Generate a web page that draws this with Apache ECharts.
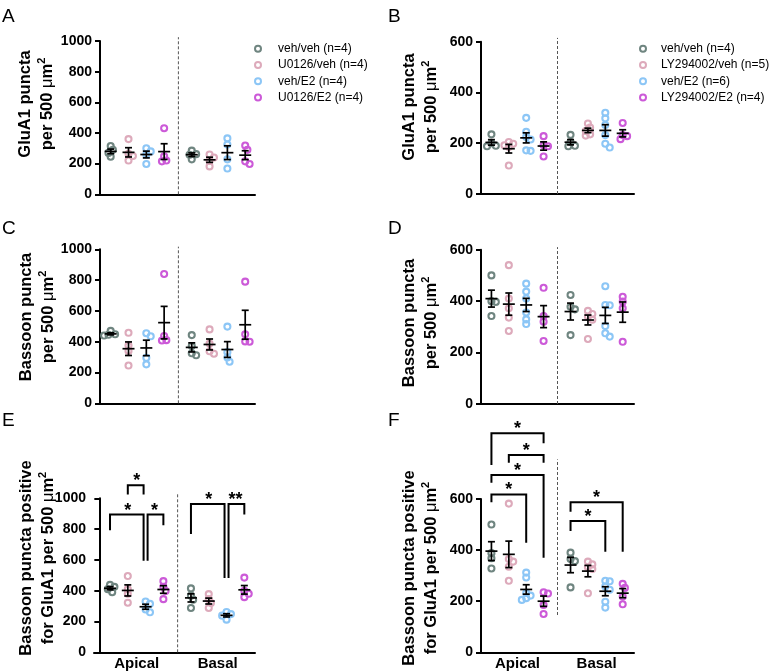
<!DOCTYPE html>
<html><head><meta charset="utf-8">
<script src="https://cdn.jsdelivr.net/npm/echarts@6/dist/echarts.min.js"></script>
<style>html,body{margin:0;padding:0;background:#fff}#c{width:770px;height:671px}</style>
</head><body><div id="c"></div>
<script>
const FONT = '"Liberation Sans", Arial, Helvetica, sans-serif';
const colors = ['#6f8580', '#ddaabb', '#8cc6f6', '#cc5ad8'];

// legend / group names
const groupsU = ['veh/veh (n=4)', 'U0126/veh (n=4)', 'veh/E2 (n=4)', 'U0126/E2 (n=4)'];
const groupsLY = ['veh/veh (n=4)', 'LY294002/veh (n=5)', 'veh/E2 (n=6)', 'LY294002/E2 (n=4)'];
const regions = ['Apical', 'Basal'];
const ticks1000 = [0, 200, 400, 600, 800, 1000];
const ticks600 = [0, 200, 400, 600];

// Panel A: GluA1 puncta per 500 um2 (U0126 experiment) [group][points]
const A_apical = [[315, 290, 270, 245], [360, 265, 250, 220], [300, 280, 260, 198], [431, 248, 220, 215]];
const A_basal  = [[285, 262, 258, 228], [260, 240, 218, 182], [365, 325, 228, 168], [318, 290, 215, 198]];
// Panel B: GluA1 puncta (LY294002 experiment)
const B_apical = [[235, 200, 188, 190], [205, 198, 192, 185, 112], [300, 245, 225, 215, 172, 170], [228, 192, 188, 148]];
const B_basal  = [[233, 205, 190, 188], [278, 262, 248, 235, 230], [320, 298, 272, 232, 198, 183], [280, 232, 228, 216]];
// Panel C: Bassoon puncta (U0126)
const C_apical = [[470, 448, 445, 440], [458, 375, 340, 245], [455, 435, 295, 253], [840, 437, 410, 408]];
const C_basal  = [[443, 372, 325, 312], [480, 388, 338, 322], [498, 332, 297, 270], [790, 448, 402, 400]];
// Panel D: Bassoon puncta (LY294002)
const D_apical = [[500, 400, 397, 342], [540, 410, 372, 336, 284], [468, 437, 410, 356, 329, 311], [452, 342, 320, 245]];
const D_basal  = [[424, 378, 368, 268], [362, 350, 340, 328, 253], [458, 385, 384, 303, 275, 262], [417, 398, 372, 242]];
// Panel E: Bassoon positive for GluA1 (U0126)
const E_apical = [[438, 425, 410, 390], [495, 410, 380, 322], [330, 315, 278, 260], [462, 426, 398, 345]];
const E_basal  = [[415, 368, 342, 288], [378, 345, 320, 288], [262, 248, 238, 212], [485, 400, 380, 358]];
// Panel F: Bassoon positive for GluA1 (LY294002)
const F_apical = [[500, 388, 368, 328], [582, 365, 355, 335, 280], [312, 293, 232, 222, 212, 205], [235, 230, 185, 150]];
const F_basal  = [[390, 365, 357, 254], [355, 344, 333, 326, 231], [280, 278, 258, 245, 198, 175], [268, 252, 218, 188]];

// significance brackets: [region, groupFrom, groupTo, topValue, leftLegEnd, rightLegEnd, label]
const E_brackets = [
  ['Apical', 1, 2, 1084, 1024, 1024, '*'],
  ['Apical', 0, 2, 894, 792, 595, '*'],
  ['Apical', 2, 3, 894, 595, 825, '*'],
  ['Basal', 0, 2, 963, 768, 483, '*'],
  ['Basal', 2, 3, 963, 483, 894, '**']
];
const F_brackets = [
  ['Apical', 0, 3, 857, 733, 818, '*'],
  ['Apical', 1, 3, 772, 742, 742, '*'],
  ['Apical', 0, 3, 694, 664, 370, '*'],
  ['Apical', 0, 2, 618, 587, 429, '*'],
  ['Basal', 0, 3, 587, 550, 394, '*'],
  ['Basal', 0, 2, 514, 475, 394, '*']
];

// ---------- layout ----------
const groupPos = [[0.6, 1.6, 2.6, 3.6], [5.15, 6.15, 7.15, 8.15]];
const dividerX = 4.4;
const regionLabelX = [2.1, 6.65];

const panels = [
  {letter: 'A', lx: 2, ly: 17, grid: {left: 100, top: 41, width: 155, height: 153.3}, xr: [0, 8.7], ticks: ticks1000,
   data: [A_apical, A_basal], names: groupsU, dash: [0, 1025], title: {x: 36.5, y: 104, l1: 'GluA1 puncta', l2: 'per 500 '}},
  {letter: 'B', lx: 388, ly: 17, grid: {left: 481, top: 41.7, width: 153, height: 152.3}, xr: [0, 8.8], ticks: ticks600,
   data: [B_apical, B_basal], names: groupsLY, dash: [0, 615], title: {x: 420, y: 107, l1: 'GluA1 puncta', l2: 'per 500 '}},
  {letter: 'C', lx: 2, ly: 229, grid: {left: 100, top: 249.3, width: 155, height: 154}, xr: [0, 8.7], ticks: ticks1000,
   data: [C_apical, C_basal], names: groupsU, dash: [0, 1017], title: {x: 37, y: 317, l1: 'Bassoon puncta', l2: 'per 500 '}},
  {letter: 'D', lx: 388, ly: 229, grid: {left: 481, top: 249.7, width: 153, height: 154.3}, xr: [0, 8.8], ticks: ticks600,
   data: [D_apical, D_basal], names: groupsLY, dash: [0, 610], title: {x: 420, y: 323, l1: 'Bassoon puncta', l2: 'per 500 '}},
  {letter: 'E', lx: 2, ly: 421, grid: {left: 94, top: 498.3, width: 161, height: 154}, xr: [-0.3, 8.75], ticks: ticks1000,
   data: [E_apical, E_basal], names: groupsU, dash: [0, 1026], brackets: E_brackets, cats: true,
   title: {x: 37, y: 558, l1: 'Bassoon puncta positive', l2: 'for GluA1 per 500 '}},
  {letter: 'F', lx: 388, ly: 421, grid: {left: 481, top: 499, width: 153, height: 153.3}, xr: [0, 8.8], ticks: ticks600,
   data: [F_apical, F_basal], names: groupsLY, dash: [146, 755], brackets: F_brackets, cats: true,
   title: {x: 420, y: 568, l1: 'Bassoon puncta positive', l2: 'for GluA1 per 500 '}}
];

function swarm(vals, cx, pxX, pxY) {
  const d = 4.4;
  const idx = vals.map((v, i) => i).sort((a, b) => vals[b] - vals[a]);
  const placed = [], out = [];
  const cands = [0];
  for (let k = 1; k < 12; k++) { cands.push(k * d / 2, -k * d / 2); }
  idx.forEach(i => {
    const y = vals[i] * pxY;
    let best = 0;
    for (const c of cands) {
      if (placed.every(p => Math.hypot(p[0] - c, p[1] - y) >= d)) { best = c; break; }
    }
    placed.push([best, y]);
    out.push([cx + best / pxX, vals[i]]);
  });
  return out;
}
function mean(a) { return a.reduce((s, v) => s + v, 0) / a.length; }
function sem(a) {
  const m = mean(a);
  const sd = Math.sqrt(a.reduce((s, v) => s + (v - m) * (v - m), 0) / (a.length - 1));
  return sd / Math.sqrt(a.length);
}

const grids = [], xAxes = [], yAxes = [], series = [], graphics = [];
panels.forEach((p, pi) => {
  grids.push(Object.assign({outerBoundsMode: 'none', containLabel: false}, p.grid));
  const yMax = p.ticks[p.ticks.length - 1];
  xAxes.push({gridIndex: pi, type: 'value', min: p.xr[0], max: p.xr[1],
    axisLine: {show: true, onZero: false, lineStyle: {color: '#000', width: 2}},
    axisTick: {show: false}, axisLabel: {show: false}, splitLine: {show: false}});
  yAxes.push({gridIndex: pi, type: 'value', min: p.ticks[0], max: yMax, interval: p.ticks[1] - p.ticks[0],
    axisLine: {show: true, lineStyle: {color: '#000', width: 2}},
    axisTick: {show: true, length: 5, lineStyle: {color: '#000', width: 2}},
    axisLabel: {color: '#000', fontWeight: 'bold', fontSize: 14, fontFamily: FONT, margin: 8, formatter: v => String(v)},
    splitLine: {show: false}});
  const pxX = p.grid.width / (p.xr[1] - p.xr[0]);
  const pxY = p.grid.height / yMax;
  // scatter points by group
  for (let g = 0; g < 4; g++) {
    let pts = [];
    for (let r = 0; r < 2; r++) pts = pts.concat(swarm(p.data[r][g], groupPos[r][g], pxX, pxY));
    series.push({type: 'scatter', name: p.names[g], xAxisIndex: pi, yAxisIndex: pi, data: pts,
      symbol: 'circle', symbolSize: 6, z: 3,
      itemStyle: {color: 'rgba(255,255,255,0)', borderColor: colors[g], borderWidth: 2.1, opacity: 1},
      emphasis: {disabled: true}});
  }
  // mean +- SEM
  const ms = [];
  for (let r = 0; r < 2; r++) for (let g = 0; g < 4; g++) {
    const a = p.data[r][g];
    ms.push([groupPos[r][g], mean(a), sem(a)]);
  }
  series.push({type: 'custom', xAxisIndex: pi, yAxisIndex: pi, z: 5, data: ms, silent: true,
    encode: {x: 0, y: 1},
    renderItem: (params, api) => {
      const x = api.value(0), m = api.value(1), s = api.value(2);
      const pm = api.coord([x, m]), pt = api.coord([x, m + s]), pb = api.coord([x, m - s]);
      const st = {stroke: '#000', lineWidth: 1.7, fill: null};
      return {type: 'group', children: [
        {type: 'line', shape: {x1: pm[0] - 6, y1: pm[1], x2: pm[0] + 6, y2: pm[1]}, style: st},
        {type: 'line', shape: {x1: pt[0], y1: pt[1], x2: pb[0], y2: pb[1]}, style: st},
        {type: 'line', shape: {x1: pt[0] - 3.5, y1: pt[1], x2: pt[0] + 3.5, y2: pt[1]}, style: st},
        {type: 'line', shape: {x1: pb[0] - 3.5, y1: pb[1], x2: pb[0] + 3.5, y2: pb[1]}, style: st}
      ]};
    }});
  // divider
  series.push({type: 'custom', xAxisIndex: pi, yAxisIndex: pi, z: 2, silent: true,
    data: [[dividerX, p.dash[0], p.dash[1]]], encode: {x: 0, y: 1},
    renderItem: (params, api) => {
      const a = api.coord([api.value(0), api.value(1)]), b = api.coord([api.value(0), api.value(2)]);
      return {type: 'line', shape: {x1: a[0], y1: a[1], x2: b[0], y2: b[1]},
        style: {stroke: '#555', lineWidth: 1, lineDash: [3, 2], fill: null}};
    }});
  // brackets
  if (p.brackets) {
    const bData = p.brackets.map((b, k) => {
      const r = regions.indexOf(b[0]);
      return [groupPos[r][b[1]], groupPos[r][b[2]], b[3], b[4], b[5], k];
    });
    const rightCols = new Set(bData.map(b => b[1])), leftCols = new Set(bData.map(b => b[0]));
    series.push({type: 'custom', xAxisIndex: pi, yAxisIndex: pi, z: 6, silent: true, clip: false,
      data: bData, encode: {x: 0, y: 2},
      renderItem: (params, api) => {
        const x1 = api.value(0), x2 = api.value(1), top = api.value(2), l = api.value(3), r = api.value(4);
        const lab = p.brackets[api.value(5)][6];
        const dl = rightCols.has(x1) ? 2 : 0, dr = leftCols.has(x2) ? -2 : 0;
        const a = api.coord([x1, l]), b = api.coord([x1, top]), c = api.coord([x2, top]), d = api.coord([x2, r]);
        return {type: 'group', children: [
          {type: 'polyline', shape: {points: [[a[0] + dl, a[1]], [b[0] + dl, b[1]], [c[0] + dr, c[1]], [d[0] + dr, d[1]]]},
            style: {stroke: '#000', lineWidth: 2, fill: null}},
          {type: 'text', x: (b[0] + c[0]) / 2, y: b[1] - 4,
            style: {text: lab, fontSize: 18, fontWeight: 'bold', fontFamily: FONT, fill: '#000', align: 'center', verticalAlign: 'middle'}}
        ]};
      }});
  }
  // region labels
  if (p.cats) {
    series.push({type: 'custom', xAxisIndex: pi, yAxisIndex: pi, z: 6, silent: true, clip: false,
      data: regionLabelX.map((x, k) => [x, 0, k]), encode: {x: 0, y: 1},
      renderItem: (params, api) => {
        const pt = api.coord([api.value(0), api.value(1)]);
        return {type: 'text', x: pt[0], y: pt[1] + 11.5,
          style: {text: regions[api.value(2)], fontSize: 15, fontWeight: 'bold', fontFamily: FONT, fill: '#000', align: 'center', verticalAlign: 'middle'}};
      }});
  }
  // panel letter
  graphics.push({type: 'text', x: p.lx, y: p.ly, silent: true,
    style: {text: p.letter, fontSize: 19, fontFamily: FONT, fill: '#000', align: 'left', verticalAlign: 'middle'}});
  // y title
  graphics.push({type: 'text', x: p.title.x, y: p.title.y, rotation: Math.PI / 2, silent: true,
    style: {text: p.title.l1 + '\n{b|' + p.title.l2 + '}{mu|\u03bc}{b|m}{sup|2}',
      fontSize: 16.5, fontWeight: 'bold', fontFamily: FONT, fill: '#000', lineHeight: 22,
      align: 'center', verticalAlign: 'middle',
      rich: {
        b: {fontSize: 16.5, fontWeight: 'bold', fontFamily: FONT, lineHeight: 22},
        mu: {fontSize: 16.5, fontWeight: 'normal', fontFamily: FONT, lineHeight: 22},
        sup: {fontSize: 11, fontWeight: 'bold', fontFamily: FONT, lineHeight: 22, verticalAlign: 'top'}
      }}});
});

const legendBase = {orient: 'vertical', icon: 'circle', itemHeight: 6, itemGap: 0, padding: 0,
  selectedMode: false, textStyle: {fontSize: 12, fontFamily: FONT, color: '#000', lineHeight: 16.3}};

const chart = echarts.init(document.getElementById('c'), null, {renderer: 'canvas'});
chart.setOption({
  animation: false,
  backgroundColor: '#fff',
  grid: grids, xAxis: xAxes, yAxis: yAxes,
  legend: [
    Object.assign({}, legendBase, {left: 254, top: 40.5, itemWidth: 30, data: groupsU}),
    Object.assign({}, legendBase, {left: 639, top: 40.5, itemWidth: 26, data: groupsLY})
  ],
  graphic: graphics,
  series: series
});
</script></body></html>
